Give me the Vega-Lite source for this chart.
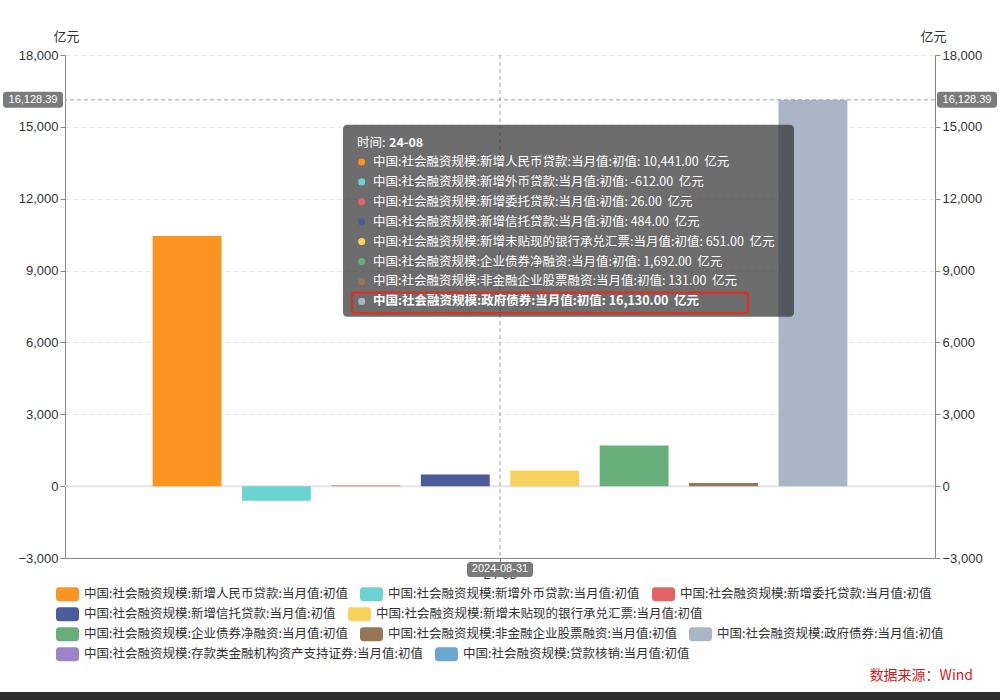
{
  "$schema": "https://vega.github.io/schema/vega-lite/v6.json",
  "width": 870,
  "height": 503,
  "autosize": "none",
  "padding": {"left": 65, "top": 55, "right": 65, "bottom": 142},
  "background": "white",
  "config": {
    "view": {"stroke": null},
    "font": "Noto Sans CJK SC",
    "legend": {
      "orient": "none",
      "direction": "horizontal",
      "symbolType": "M-0.7,-0.61L0.7,-0.61Q1,-0.61 1,-0.31L1,0.31Q1,0.61 0.7,0.61L-0.7,0.61Q-1,0.61 -1,0.31L-1,-0.31Q-1,-0.61 -0.7,-0.61Z",
      "symbolSize": 529,
      "symbolStrokeWidth": 0,
      "symbolOpacity": 1,
      "labelFont": "Noto Sans CJK SC",
      "labelFontSize": 12.5,
      "labelColor": "#333333",
      "labelLimit": 500,
      "labelOffset": 5,
      "columnPadding": 12,
      "padding": 0
    }
  },
  "datasets": {
    "bars": [
      {"period": "24-08", "series": "中国:社会融资规模:新增人民币贷款:当月值:初值", "value": 10441},
      {"period": "24-08", "series": "中国:社会融资规模:新增外币贷款:当月值:初值", "value": -612},
      {"period": "24-08", "series": "中国:社会融资规模:新增委托贷款:当月值:初值", "value": 26},
      {"period": "24-08", "series": "中国:社会融资规模:新增信托贷款:当月值:初值", "value": 484},
      {"period": "24-08", "series": "中国:社会融资规模:新增未贴现的银行承兑汇票:当月值:初值", "value": 651},
      {"period": "24-08", "series": "中国:社会融资规模:企业债券净融资:当月值:初值", "value": 1692},
      {"period": "24-08", "series": "中国:社会融资规模:非金融企业股票融资:当月值:初值", "value": 131},
      {"period": "24-08", "series": "中国:社会融资规模:政府债券:当月值:初值", "value": 16130},
      {"period": "24-08", "series": "中国:社会融资规模:存款类金融机构资产支持证券:当月值:初值", "value": null},
      {"period": "24-08", "series": "中国:社会融资规模:贷款核销:当月值:初值", "value": null}
    ],
    "tip": [
      {"order": 1, "series": "中国:社会融资规模:新增人民币贷款:当月值:初值", "text": "中国:社会融资规模:新增人民币贷款:当月值:初值: 10,441.00\u00a0\u00a0亿元"},
      {"order": 2, "series": "中国:社会融资规模:新增外币贷款:当月值:初值", "text": "中国:社会融资规模:新增外币贷款:当月值:初值: -612.00\u00a0\u00a0亿元"},
      {"order": 3, "series": "中国:社会融资规模:新增委托贷款:当月值:初值", "text": "中国:社会融资规模:新增委托贷款:当月值:初值: 26.00\u00a0\u00a0亿元"},
      {"order": 4, "series": "中国:社会融资规模:新增信托贷款:当月值:初值", "text": "中国:社会融资规模:新增信托贷款:当月值:初值: 484.00\u00a0\u00a0亿元"},
      {"order": 5, "series": "中国:社会融资规模:新增未贴现的银行承兑汇票:当月值:初值", "text": "中国:社会融资规模:新增未贴现的银行承兑汇票:当月值:初值: 651.00\u00a0\u00a0亿元"},
      {"order": 6, "series": "中国:社会融资规模:企业债券净融资:当月值:初值", "text": "中国:社会融资规模:企业债券净融资:当月值:初值: 1,692.00\u00a0\u00a0亿元"},
      {"order": 7, "series": "中国:社会融资规模:非金融企业股票融资:当月值:初值", "text": "中国:社会融资规模:非金融企业股票融资:当月值:初值: 131.00\u00a0\u00a0亿元"},
      {"order": 8, "series": "中国:社会融资规模:政府债券:当月值:初值", "text": "中国:社会融资规模:政府债券:当月值:初值: 16,130.00\u00a0\u00a0亿元"}
    ]
  },
  "layer": [
    {
      "data": {"name": "bars"},
      "layer": [
        {
          "data": {"values": [{}]},
          "mark": {"type": "rule", "color": "#e4e4e4", "strokeWidth": 2},
          "encoding": {"y": {"datum": 0, "type": "quantitative", "axis": null}}
        },
        {
          "transform": [{"filter": {"field": "series", "oneOf": ["中国:社会融资规模:新增人民币贷款:当月值:初值", "中国:社会融资规模:新增外币贷款:当月值:初值", "中国:社会融资规模:新增委托贷款:当月值:初值"]}}],
          "mark": {"type": "bar"},
          "encoding": {
            "x": {"field": "period", "type": "nominal", "scale": {"paddingInner": 0, "paddingOuter": 0},
              "axis": {"title": null, "labelAngle": 0, "domainColor": "#888888", "tickColor": "#888888", "tickSize": 5, "labelPadding": 5, "labelFontSize": 13, "labelColor": "#333333", "labelFont": "Liberation Sans", "grid": false}},
            "xOffset": {"field": "series", "type": "nominal", "scale": {"domain": ["中国:社会融资规模:新增人民币贷款:当月值:初值", "中国:社会融资规模:新增外币贷款:当月值:初值", "中国:社会融资规模:新增委托贷款:当月值:初值", "中国:社会融资规模:新增信托贷款:当月值:初值", "中国:社会融资规模:新增未贴现的银行承兑汇票:当月值:初值", "中国:社会融资规模:企业债券净融资:当月值:初值", "中国:社会融资规模:非金融企业股票融资:当月值:初值", "中国:社会融资规模:政府债券:当月值:初值"], "paddingInner": 0.23, "paddingOuter": 0.98}},
            "y": {"field": "value", "type": "quantitative", "scale": {"domain": [-3000, 18000], "nice": false, "zero": false},
              "axis": {"orient": "left", "title": "亿元", "titleAngle": 0, "titleX": 1, "titleY": -19, "titleAlign": "center", "titleBaseline": "middle", "titleFontSize": 13, "titleFontWeight": "normal", "titleColor": "#333333", "titleFont": "Noto Sans CJK SC",
                "values": [-3000, 0, 3000, 6000, 9000, 12000, 15000, 18000], "labelExpr": "format(datum.value, ',')", "labelFontSize": 13, "labelColor": "#333333", "labelFont": "Liberation Sans", "domainColor": "#888888", "tickColor": "#888888", "tickSize": 5, "labelPadding": 2, "grid": true, "gridDash": [4, 4], "gridColor": "#e2e2e2"}},
            "color": {"field": "series", "type": "nominal",
              "scale": {"domain": ["中国:社会融资规模:新增人民币贷款:当月值:初值", "中国:社会融资规模:新增外币贷款:当月值:初值", "中国:社会融资规模:新增委托贷款:当月值:初值"], "range": ["#fb951f", "#6cd3d3", "#e26464"]},
              "legend": {"title": null, "legendX": -9, "legendY": 527.5}}
          }
        },
        {
          "transform": [{"filter": {"field": "series", "oneOf": ["中国:社会融资规模:新增信托贷款:当月值:初值", "中国:社会融资规模:新增未贴现的银行承兑汇票:当月值:初值"]}}],
          "mark": {"type": "bar"},
          "encoding": {
            "x": {"field": "period", "type": "nominal"},
            "xOffset": {"field": "series", "type": "nominal"},
            "y": {"field": "value", "type": "quantitative", "axis": null},
            "color": {"field": "series", "type": "nominal",
              "scale": {"domain": ["中国:社会融资规模:新增信托贷款:当月值:初值", "中国:社会融资规模:新增未贴现的银行承兑汇票:当月值:初值"], "range": ["#4c5b9a", "#f7d35d"]},
              "legend": {"title": null, "legendX": -9, "legendY": 547.5}}
          }
        },
        {
          "transform": [{"filter": {"field": "series", "oneOf": ["中国:社会融资规模:企业债券净融资:当月值:初值", "中国:社会融资规模:非金融企业股票融资:当月值:初值", "中国:社会融资规模:政府债券:当月值:初值"]}}],
          "mark": {"type": "bar"},
          "encoding": {
            "x": {"field": "period", "type": "nominal"},
            "xOffset": {"field": "series", "type": "nominal"},
            "y": {"field": "value", "type": "quantitative", "axis": null},
            "color": {"field": "series", "type": "nominal",
              "scale": {"domain": ["中国:社会融资规模:企业债券净融资:当月值:初值", "中国:社会融资规模:非金融企业股票融资:当月值:初值", "中国:社会融资规模:政府债券:当月值:初值"], "range": ["#68ae7b", "#977657", "#aab6c6"]},
              "legend": {"title": null, "legendX": -9, "legendY": 567.5}}
          }
        },
        {
          "transform": [{"filter": {"field": "series", "oneOf": ["中国:社会融资规模:存款类金融机构资产支持证券:当月值:初值", "中国:社会融资规模:贷款核销:当月值:初值"]}}],
          "mark": {"type": "bar"},
          "encoding": {
            "x": {"field": "period", "type": "nominal"},
            "xOffset": {"field": "series", "type": "nominal"},
            "y": {"field": "value", "type": "quantitative", "axis": null},
            "color": {"field": "series", "type": "nominal",
              "scale": {"domain": ["中国:社会融资规模:存款类金融机构资产支持证券:当月值:初值", "中国:社会融资规模:贷款核销:当月值:初值"], "range": ["#9d83c8", "#6aa8cf"]},
              "legend": {"title": null, "legendX": -9, "legendY": 587.5}}
          }
        },
        {
          "data": {"values": [{}]},
          "mark": {"type": "rule", "color": "#a0a0a0", "strokeDash": [4, 3], "strokeWidth": 1},
          "encoding": {"y": {"datum": 16128.39, "type": "quantitative",
            "axis": {"orient": "right", "title": "亿元", "titleAngle": 0, "titleX": -2, "titleY": -19, "titleAlign": "center", "titleBaseline": "middle", "titleFontSize": 13, "titleFontWeight": "normal", "titleColor": "#333333", "titleFont": "Noto Sans CJK SC",
              "values": [-3000, 0, 3000, 6000, 9000, 12000, 15000, 18000], "labelExpr": "format(datum.value, ',')", "labelFontSize": 13, "labelColor": "#333333", "labelFont": "Liberation Sans", "domainColor": "#888888", "tickColor": "#888888", "tickSize": 5, "labelPadding": 2, "grid": false}}}
        },
        {
          "data": {"values": [{}]},
          "mark": {"type": "rule", "color": "#a0a0a0", "strokeDash": [4, 3], "strokeWidth": 1},
          "encoding": {"x": {"datum": "24-08", "type": "nominal"}}
        }
      ],
      "resolve": {"scale": {"color": "independent"}, "axis": {"y": "independent"}}
    },
    {
      "layer": [
        {
          "data": {"values": [{}]},
          "mark": {"type": "rect", "fill": "#323232", "opacity": 0.71, "cornerRadius": 4},
          "encoding": {
            "x": {"datum": 278, "type": "quantitative", "scale": {"domain": [0, 870], "nice": false, "zero": false}, "axis": null},
            "x2": {"datum": 729},
            "y": {"datum": 15090, "type": "quantitative", "axis": null},
            "y2": {"datum": 7073}
          }
        },
        {
          "data": {"values": [{}]},
          "mark": {"type": "rect", "filled": false, "stroke": "#dc2f1f", "strokeWidth": 2.2, "cornerRadius": 3},
          "encoding": {
            "x": {"datum": 287, "type": "quantitative", "axis": null},
            "x2": {"datum": 683},
            "y": {"datum": 8076, "type": "quantitative", "axis": null},
            "y2": {"datum": 7228}
          }
        },
        {
          "data": {"values": [{}]},
          "mark": {"type": "text", "text": "时间:", "align": "left", "baseline": "middle", "color": "#ffffff", "fontSize": 12.5, "font": "Noto Sans CJK SC"},
          "encoding": {
            "x": {"datum": 292, "type": "quantitative", "axis": null},
            "y": {"datum": 14339, "type": "quantitative", "axis": null}
          }
        },
        {
          "data": {"values": [{}]},
          "mark": {"type": "text", "text": "24-08", "align": "left", "baseline": "middle", "color": "#ffffff", "fontSize": 12.5, "fontWeight": "bold", "font": "Noto Sans CJK SC"},
          "encoding": {
            "x": {"datum": 324, "type": "quantitative", "axis": null},
            "y": {"datum": 14339, "type": "quantitative", "axis": null}
          }
        },
        {
          "data": {"name": "tip"},
          "transform": [{"filter": "datum.order == 1"}],
          "layer": [
            {"mark": {"type": "point", "filled": true, "size": 50, "strokeWidth": 0, "opacity": 1},
             "encoding": {"x": {"datum": 296.7, "type": "quantitative", "axis": null}, "y": {"datum": 13533, "type": "quantitative", "axis": null},
               "fill": {"field": "series", "type": "nominal", "legend": null,
                 "scale": {"domain": ["中国:社会融资规模:新增人民币贷款:当月值:初值", "中国:社会融资规模:新增外币贷款:当月值:初值", "中国:社会融资规模:新增委托贷款:当月值:初值", "中国:社会融资规模:新增信托贷款:当月值:初值", "中国:社会融资规模:新增未贴现的银行承兑汇票:当月值:初值", "中国:社会融资规模:企业债券净融资:当月值:初值", "中国:社会融资规模:非金融企业股票融资:当月值:初值", "中国:社会融资规模:政府债券:当月值:初值"],
                   "range": ["#fb951f", "#6cd3d3", "#e26464", "#4c5b9a", "#f7d35d", "#68ae7b", "#977657", "#aab6c6"]}}}},
            {"mark": {"type": "text", "align": "left", "baseline": "middle", "color": "#ffffff", "fontSize": 12.5, "font": "Noto Sans CJK SC"},
             "encoding": {"x": {"datum": 308, "type": "quantitative", "axis": null}, "y": {"datum": 13533, "type": "quantitative", "axis": null}, "text": {"field": "text", "type": "nominal"}}}
          ]
        },
        {
          "data": {"name": "tip"},
          "transform": [{"filter": "datum.order == 2"}],
          "layer": [
            {"mark": {"type": "point", "filled": true, "size": 50, "strokeWidth": 0, "opacity": 1},
             "encoding": {"x": {"datum": 296.7, "type": "quantitative", "axis": null}, "y": {"datum": 12702, "type": "quantitative", "axis": null}, "fill": {"field": "series", "type": "nominal", "legend": null}}},
            {"mark": {"type": "text", "align": "left", "baseline": "middle", "color": "#ffffff", "fontSize": 12.5, "font": "Noto Sans CJK SC"},
             "encoding": {"x": {"datum": 308, "type": "quantitative", "axis": null}, "y": {"datum": 12702, "type": "quantitative", "axis": null}, "text": {"field": "text", "type": "nominal"}}}
          ]
        },
        {
          "data": {"name": "tip"},
          "transform": [{"filter": "datum.order == 3"}],
          "layer": [
            {"mark": {"type": "point", "filled": true, "size": 50, "strokeWidth": 0, "opacity": 1},
             "encoding": {"x": {"datum": 296.7, "type": "quantitative", "axis": null}, "y": {"datum": 11871, "type": "quantitative", "axis": null}, "fill": {"field": "series", "type": "nominal", "legend": null}}},
            {"mark": {"type": "text", "align": "left", "baseline": "middle", "color": "#ffffff", "fontSize": 12.5, "font": "Noto Sans CJK SC"},
             "encoding": {"x": {"datum": 308, "type": "quantitative", "axis": null}, "y": {"datum": 11871, "type": "quantitative", "axis": null}, "text": {"field": "text", "type": "nominal"}}}
          ]
        },
        {
          "data": {"name": "tip"},
          "transform": [{"filter": "datum.order == 4"}],
          "layer": [
            {"mark": {"type": "point", "filled": true, "size": 50, "strokeWidth": 0, "opacity": 1},
             "encoding": {"x": {"datum": 296.7, "type": "quantitative", "axis": null}, "y": {"datum": 11040, "type": "quantitative", "axis": null}, "fill": {"field": "series", "type": "nominal", "legend": null}}},
            {"mark": {"type": "text", "align": "left", "baseline": "middle", "color": "#ffffff", "fontSize": 12.5, "font": "Noto Sans CJK SC"},
             "encoding": {"x": {"datum": 308, "type": "quantitative", "axis": null}, "y": {"datum": 11040, "type": "quantitative", "axis": null}, "text": {"field": "text", "type": "nominal"}}}
          ]
        },
        {
          "data": {"name": "tip"},
          "transform": [{"filter": "datum.order == 5"}],
          "layer": [
            {"mark": {"type": "point", "filled": true, "size": 50, "strokeWidth": 0, "opacity": 1},
             "encoding": {"x": {"datum": 296.7, "type": "quantitative", "axis": null}, "y": {"datum": 10209, "type": "quantitative", "axis": null}, "fill": {"field": "series", "type": "nominal", "legend": null}}},
            {"mark": {"type": "text", "align": "left", "baseline": "middle", "color": "#ffffff", "fontSize": 12.5, "font": "Noto Sans CJK SC"},
             "encoding": {"x": {"datum": 308, "type": "quantitative", "axis": null}, "y": {"datum": 10209, "type": "quantitative", "axis": null}, "text": {"field": "text", "type": "nominal"}}}
          ]
        },
        {
          "data": {"name": "tip"},
          "transform": [{"filter": "datum.order == 6"}],
          "layer": [
            {"mark": {"type": "point", "filled": true, "size": 50, "strokeWidth": 0, "opacity": 1},
             "encoding": {"x": {"datum": 296.7, "type": "quantitative", "axis": null}, "y": {"datum": 9374, "type": "quantitative", "axis": null}, "fill": {"field": "series", "type": "nominal", "legend": null}}},
            {"mark": {"type": "text", "align": "left", "baseline": "middle", "color": "#ffffff", "fontSize": 12.5, "font": "Noto Sans CJK SC"},
             "encoding": {"x": {"datum": 308, "type": "quantitative", "axis": null}, "y": {"datum": 9374, "type": "quantitative", "axis": null}, "text": {"field": "text", "type": "nominal"}}}
          ]
        },
        {
          "data": {"name": "tip"},
          "transform": [{"filter": "datum.order == 7"}],
          "layer": [
            {"mark": {"type": "point", "filled": true, "size": 50, "strokeWidth": 0, "opacity": 1},
             "encoding": {"x": {"datum": 296.7, "type": "quantitative", "axis": null}, "y": {"datum": 8544, "type": "quantitative", "axis": null}, "fill": {"field": "series", "type": "nominal", "legend": null}}},
            {"mark": {"type": "text", "align": "left", "baseline": "middle", "color": "#ffffff", "fontSize": 12.5, "font": "Noto Sans CJK SC"},
             "encoding": {"x": {"datum": 308, "type": "quantitative", "axis": null}, "y": {"datum": 8544, "type": "quantitative", "axis": null}, "text": {"field": "text", "type": "nominal"}}}
          ]
        },
        {
          "data": {"name": "tip"},
          "transform": [{"filter": "datum.order == 8"}],
          "layer": [
            {"mark": {"type": "point", "filled": true, "size": 50, "strokeWidth": 0, "opacity": 1},
             "encoding": {"x": {"datum": 296.7, "type": "quantitative", "axis": null}, "y": {"datum": 7713, "type": "quantitative", "axis": null}, "fill": {"field": "series", "type": "nominal", "legend": null}}},
            {"mark": {"type": "text", "align": "left", "baseline": "middle", "color": "#ffffff", "fontSize": 12.5, "fontWeight": "bold", "font": "Noto Sans CJK SC"},
             "encoding": {"x": {"datum": 308, "type": "quantitative", "axis": null}, "y": {"datum": 7713, "type": "quantitative", "axis": null}, "text": {"field": "text", "type": "nominal"}}}
          ]
        },
        {
          "data": {"values": [{}]},
          "mark": {"type": "rect", "fill": "#7b7b7b", "cornerRadius": 3},
          "encoding": {
            "x": {"datum": -62, "type": "quantitative", "axis": null},
            "x2": {"datum": -2},
            "y": {"datum": 16462, "type": "quantitative", "axis": null},
            "y2": {"datum": 15794}
          }
        },
        {
          "data": {"values": [{}]},
          "mark": {"type": "rect", "fill": "#7b7b7b", "cornerRadius": 3},
          "encoding": {
            "x": {"datum": 872, "type": "quantitative", "axis": null},
            "x2": {"datum": 932},
            "y": {"datum": 16462, "type": "quantitative", "axis": null},
            "y2": {"datum": 15794}
          }
        },
        {
          "data": {"values": [{}]},
          "mark": {"type": "rect", "fill": "#7b7b7b", "cornerRadius": 3},
          "encoding": {
            "x": {"datum": 402, "type": "quantitative", "axis": null},
            "x2": {"datum": 468},
            "y": {"datum": -3167, "type": "quantitative", "axis": null},
            "y2": {"datum": -3793}
          }
        },
        {
          "data": {"values": [{}]},
          "mark": {"type": "text", "text": "16,128.39", "align": "center", "baseline": "middle", "color": "#ffffff", "fontSize": 11, "font": "Liberation Sans"},
          "encoding": {
            "x": {"datum": -32, "type": "quantitative", "axis": null},
            "y": {"datum": 16128.39, "type": "quantitative", "axis": null}
          }
        },
        {
          "data": {"values": [{}]},
          "mark": {"type": "text", "text": "16,128.39", "align": "center", "baseline": "middle", "color": "#ffffff", "fontSize": 11, "font": "Liberation Sans"},
          "encoding": {
            "x": {"datum": 902, "type": "quantitative", "axis": null},
            "y": {"datum": 16128.39, "type": "quantitative", "axis": null}
          }
        },
        {
          "data": {"values": [{}]},
          "mark": {"type": "text", "text": "2024-08-31", "align": "center", "baseline": "middle", "color": "#ffffff", "fontSize": 11, "font": "Liberation Sans"},
          "encoding": {
            "x": {"datum": 435, "type": "quantitative", "axis": null},
            "y": {"datum": -3480, "type": "quantitative", "axis": null}
          }
        },
        {
          "data": {"values": [{}]},
          "mark": {"type": "text", "text": "数据来源：Wind", "align": "right", "baseline": "middle", "color": "#d7191c", "fontSize": 14, "font": "Noto Sans CJK SC"},
          "encoding": {
            "x": {"datum": 908, "type": "quantitative", "axis": null},
            "y": {"datum": -7927, "type": "quantitative", "axis": null}
          }
        },
        {
          "data": {"values": [{}]},
          "mark": {"type": "rect", "fill": "#2f2f2f"},
          "encoding": {
            "x": {"datum": -65, "type": "quantitative", "axis": null},
            "x2": {"datum": 935},
            "y": {"datum": -8596, "type": "quantitative", "axis": null},
            "y2": {"datum": -8960}
          }
        }
      ]
    }
  ],
  "resolve": {"scale": {"x": "independent"}, "axis": {"x": "independent"}}
}
